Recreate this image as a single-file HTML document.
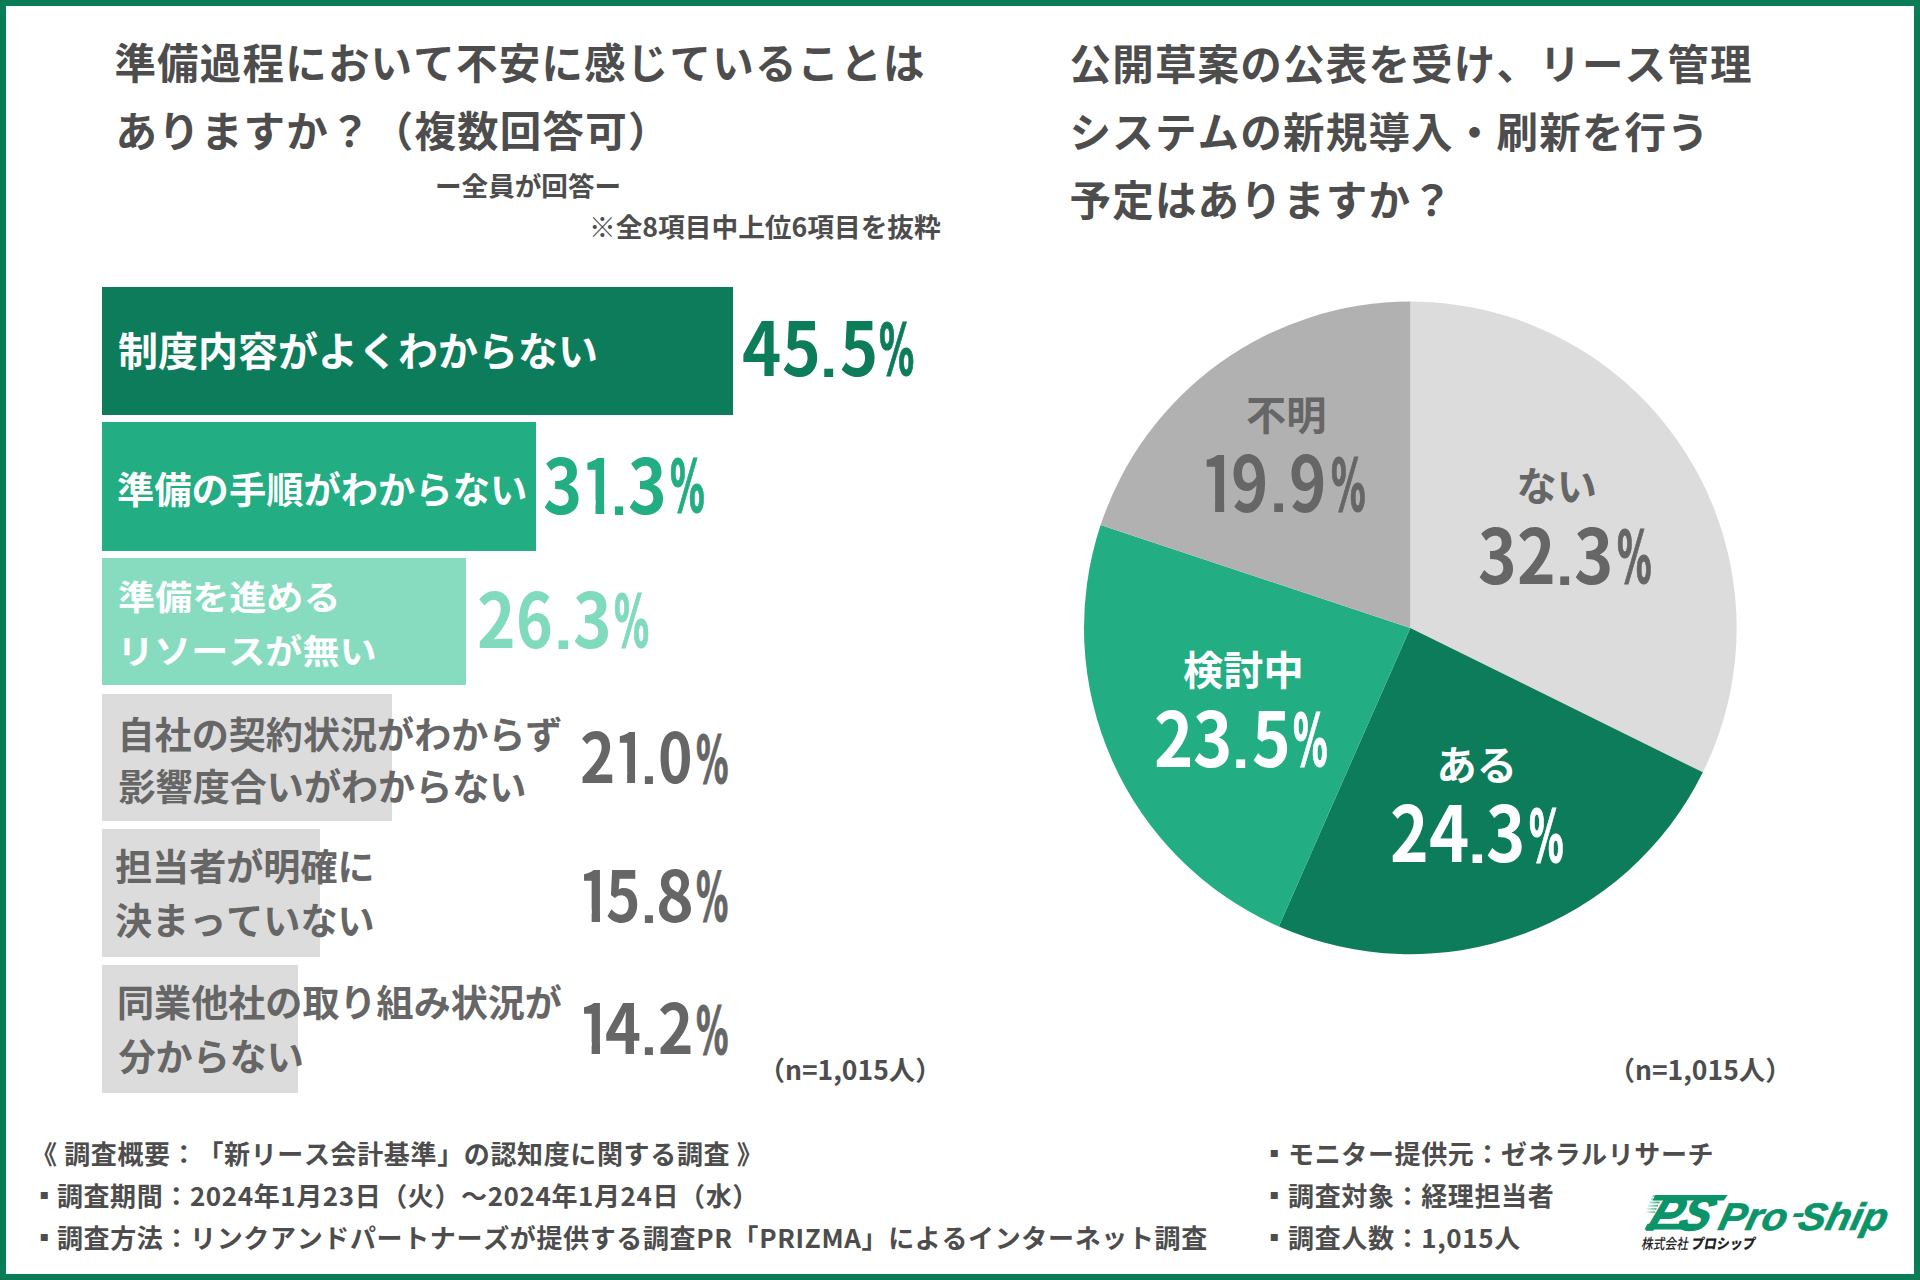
<!DOCTYPE html>
<html lang="ja">
<head>
<meta charset="utf-8">
<title>リース会計基準 調査結果</title>
<style>
:root{--g1:#0d7c5b;--g2:#23ad83;--g3:#87dcc0;--g3t:#80dabd;--gb:#dcdcdc;--gt:#666666;--pt:#666666;--pl:#dcdcdc;--pd:#b1b1b1;--tx:#4d4d4d;--fr:#0b7c58;}
html,body{margin:0;padding:0;}
body{width:1920px;height:1280px;position:relative;overflow:hidden;background:#fff;
 font-family:"Noto Sans CJK JP","Liberation Sans",sans-serif;font-weight:700;color:var(--tx);
 text-spacing-trim:space-all;font-kerning:none;}
.frame{position:absolute;left:0;top:0;width:1920px;height:1280px;box-sizing:border-box;border:6px solid var(--fr);}
.a{position:absolute;white-space:nowrap;line-height:1;}
.w{color:#fff;}
.bar{position:absolute;left:102px;height:128px;}
.pw{position:absolute;left:0;top:0;}
.pg{position:absolute;font-family:"Noto Sans CJK JP","Liberation Sans",sans-serif;font-weight:700;font-size:100px;line-height:1;transform-origin:0 0;white-space:nowrap;}
.one{clip-path:polygon(0 0,38.9px 0,38.9px 100px,24.1px 100px,24.1px 75px,0 75px);}
.pc{font-weight:900;}
.pcd{font-family:"DejaVu Sans",sans-serif;font-weight:700;-webkit-text-stroke:1.5px currentColor;}
.pdl{font-family:"Liberation Sans",sans-serif;font-weight:700;}
</style>
</head>
<body>
<div class="frame"></div>
<div class="a" style="left:114.4px;top:41.1px;font-size:41.5px;letter-spacing:1.2px;">準備過程において不安に感じていることは</div>
<div class="a" style="left:115.5px;top:108.8px;font-size:41.5px;letter-spacing:1.2px;">ありますか？（複数回答可）</div>
<div class="a" style="left:435px;top:172px;font-size:26.6px;">ー全員が回答ー</div>
<div class="a" style="left:589px;top:213px;font-size:26.7px;">※全8項目中上位6項目を抜粋</div>
<div class="bar" style="top:287px;height:128px;width:631px;background:var(--g1);"></div>
<div class="bar" style="top:422px;height:129px;width:434px;background:var(--g2);"></div>
<div class="bar" style="top:558px;height:127px;width:364px;background:var(--g3);"></div>
<div class="bar" style="top:694px;height:127px;width:290px;background:var(--gb);"></div>
<div class="bar" style="top:829px;height:128px;width:218px;background:var(--gb);"></div>
<div class="bar" style="top:965px;height:128px;width:196px;background:var(--gb);"></div>
<div class="a w" style="left:118px;top:329px;font-size:40px;">制度内容がよくわからない</div>
<div class="a w" style="left:117px;top:469.5px;font-size:37.3px;">準備の手順がわからない</div>
<div class="a w" style="left:118px;top:579.4px;font-size:37.1px;transform:scale(1,0.91);transform-origin:0 0;">準備を進める</div>
<div class="a w" style="left:117px;top:633px;font-size:37.1px;transform:scale(1,0.91);transform-origin:0 0;">リソースが無い</div>
<div class="a" style="left:117.5px;top:714.6px;font-size:37.1px;color:var(--gt);">自社の契約状況がわからず</div>
<div class="a" style="left:118.5px;top:767.4px;font-size:37.1px;color:var(--gt);">影響度合いがわからない</div>
<div class="a" style="left:115px;top:847.4px;font-size:37.1px;color:var(--gt);">担当者が明確に</div>
<div class="a" style="left:115px;top:900.5px;font-size:37.1px;color:var(--gt);">決まっていない</div>
<div class="a" style="left:117px;top:982.6px;font-size:37.1px;color:var(--gt);">同業他社の取り組み状況が</div>
<div class="a" style="left:118.5px;top:1036.75px;font-size:37.1px;color:var(--gt);">分からない</div>
<div class="a" style="left:758.5px;top:1056px;font-size:26.5px;">（n=1,015人）</div>
<div class="a" style="left:1069.5px;top:41.8px;font-size:41.5px;letter-spacing:1.2px;">公開草案の公表を受け、リース管理</div>
<div class="a" style="left:1069.5px;top:109.8px;font-size:41.5px;letter-spacing:1.2px;">システムの新規導入・刷新を行う</div>
<div class="a" style="left:1069.5px;top:177.8px;font-size:41.5px;letter-spacing:1.2px;">予定はありますか？</div>
<svg class="a" style="left:0;top:0;" width="1920" height="1280" viewBox="0 0 1920 1280"><path d="M1410.3 627.9L1410.30 301.60A326.3 326.3 0 0 1 1702.87 772.37Z" fill="var(--pl)"/><path d="M1410.3 627.9L1702.87 772.37A326.3 326.3 0 0 1 1278.83 926.54Z" fill="var(--g1)"/><path d="M1410.3 627.9L1278.83 926.54A326.3 326.3 0 0 1 1100.61 525.12Z" fill="var(--g2)"/><path d="M1410.3 627.9L1100.61 525.12A326.3 326.3 0 0 1 1410.30 301.60Z" fill="var(--pd)"/></svg>
<div class="a" style="left:1246.1px;top:393.25px;font-size:40.2px;color:var(--pt);">不明</div>
<div class="a" style="left:1516.5px;top:463.5px;font-size:40.2px;color:var(--pt);">ない</div>
<div class="a w" style="left:1183px;top:647.5px;font-size:40.2px;">検討中</div>
<div class="a w" style="left:1436.6px;top:743.2px;font-size:40.2px;">ある</div>
<div class="a" style="left:1608.5px;top:1056px;font-size:26.5px;">（n=1,015人）</div>
<div class="pw" style="color:var(--g1)"><span class="pg" style="left:741.7px;top:306.8px;transform:scale(0.6667,0.7467)">4</span><span class="pg" style="left:781.6px;top:306.8px;transform:scale(0.6580,0.7467)">5</span><span class="pg pdl" style="left:819.9px;top:329.1px;transform:scale(0.6286,0.5633)">.</span><span class="pg" style="left:840.1px;top:306.8px;transform:scale(0.6460,0.7467)">5</span><span class="pg pcd" style="left:879.4px;top:315.3px;transform:scale(0.3516,0.7179)">%</span></div>
<div class="pw" style="color:var(--g2)"><span class="pg" style="left:542.6px;top:442.8px;transform:scale(0.6660,0.7600)">3</span><span class="pg one" style="left:580.7px;top:442.8px;transform:scale(0.6014,0.7600)">1</span><span class="pg pdl" style="left:610.5px;top:465.5px;transform:scale(0.5786,0.5733)">.</span><span class="pg" style="left:627.5px;top:442.8px;transform:scale(0.6560,0.7600)">3</span><span class="pg pcd" style="left:670.1px;top:451.4px;transform:scale(0.3463,0.7308)">%</span></div>
<div class="pw" style="color:var(--g3t)"><span class="pg" style="left:476.8px;top:577.6px;transform:scale(0.6560,0.7567)">2</span><span class="pg" style="left:516.4px;top:577.6px;transform:scale(0.6240,0.7567)">6</span><span class="pg pdl" style="left:554.3px;top:600.2px;transform:scale(0.6714,0.5708)">.</span><span class="pg" style="left:572.7px;top:577.6px;transform:scale(0.6560,0.7567)">3</span><span class="pg pcd" style="left:614.2px;top:586.2px;transform:scale(0.3505,0.7276)">%</span></div>
<div class="pw" style="color:var(--gt)"><span class="pg" style="left:579.8px;top:718.9px;transform:scale(0.5980,0.6920)">2</span><span class="pg one" style="left:614.2px;top:718.9px;transform:scale(0.5445,0.6920)">1</span><span class="pg pdl" style="left:641.1px;top:739.5px;transform:scale(0.5714,0.5220)">.</span><span class="pg" style="left:657.8px;top:718.9px;transform:scale(0.5863,0.6920)">0</span><span class="pg pcd" style="left:695.6px;top:726.7px;transform:scale(0.3242,0.6654)">%</span></div>
<div class="pw" style="color:var(--gt)"><span class="pg one" style="left:578.1px;top:856.8px;transform:scale(0.5658,0.6973)">1</span><span class="pg" style="left:605.8px;top:856.8px;transform:scale(0.5840,0.6973)">5</span><span class="pg pdl" style="left:641.1px;top:877.6px;transform:scale(0.5714,0.5261)">.</span><span class="pg" style="left:656.2px;top:856.8px;transform:scale(0.6429,0.6973)">8</span><span class="pg pcd" style="left:695.6px;top:864.6px;transform:scale(0.3221,0.6705)">%</span></div>
<div class="pw" style="color:var(--gt)"><span class="pg one" style="left:578.1px;top:989.9px;transform:scale(0.5658,0.6933)">1</span><span class="pg" style="left:604.7px;top:989.9px;transform:scale(0.6111,0.6933)">4</span><span class="pg pdl" style="left:641.1px;top:1010.6px;transform:scale(0.5714,0.5230)">.</span><span class="pg" style="left:657.5px;top:989.9px;transform:scale(0.6020,0.6933)">2</span><span class="pg pcd" style="left:695.6px;top:997.8px;transform:scale(0.3242,0.6667)">%</span></div>
<div class="pw" style="color:var(--pt)"><span class="pg one" style="left:1200.3px;top:440.5px;transform:scale(0.6263,0.7653)">1</span><span class="pg" style="left:1230.9px;top:440.5px;transform:scale(0.6320,0.7653)">9</span><span class="pg pdl" style="left:1270.1px;top:463.3px;transform:scale(0.6214,0.5774)">.</span><span class="pg" style="left:1289.4px;top:440.5px;transform:scale(0.6340,0.7653)">9</span><span class="pg pcd" style="left:1331.4px;top:449.1px;transform:scale(0.3453,0.7359)">%</span></div>
<div class="pw" style="color:var(--pt)"><span class="pg" style="left:1477.9px;top:512.9px;transform:scale(0.6560,0.7587)">3</span><span class="pg" style="left:1517.2px;top:512.9px;transform:scale(0.6560,0.7587)">2</span><span class="pg pdl" style="left:1556.4px;top:535.6px;transform:scale(0.6286,0.5723)">.</span><span class="pg" style="left:1574.0px;top:512.9px;transform:scale(0.6680,0.7587)">3</span><span class="pg pcd" style="left:1616.6px;top:521.5px;transform:scale(0.3453,0.7295)">%</span></div>
<div class="pw" style="color:#fff"><span class="pg" style="left:1154.3px;top:695.9px;transform:scale(0.6680,0.7587)">2</span><span class="pg" style="left:1192.5px;top:695.9px;transform:scale(0.6680,0.7587)">3</span><span class="pg pdl" style="left:1232.3px;top:718.6px;transform:scale(0.6286,0.5723)">.</span><span class="pg" style="left:1252.3px;top:695.9px;transform:scale(0.6560,0.7587)">5</span><span class="pg pcd" style="left:1292.5px;top:704.5px;transform:scale(0.3453,0.7295)">%</span></div>
<div class="pw" style="color:#fff"><span class="pg" style="left:1390.3px;top:791.4px;transform:scale(0.6560,0.7653)">2</span><span class="pg" style="left:1429.0px;top:791.4px;transform:scale(0.6833,0.7653)">4</span><span class="pg pdl" style="left:1467.9px;top:814.2px;transform:scale(0.6714,0.5774)">.</span><span class="pg" style="left:1486.4px;top:791.4px;transform:scale(0.6680,0.7653)">3</span><span class="pg pcd" style="left:1529.0px;top:800.0px;transform:scale(0.3453,0.7359)">%</span></div>

<div class="a" style="left:31px;top:1140px;font-size:26px;letter-spacing:0.64px;">《 調査概要：「新リース会計基準」の認知度に関する調査 》</div>
<div class="a" style="left:31.5px;top:1181.4px;font-size:25.5px;">▪</div><div class="a" style="left:56.9px;top:1182px;font-size:26px;letter-spacing:0.6px;">調査期間：2024年1月23日（火）～2024年1月24日（水）</div>
<div class="a" style="left:31.5px;top:1223.4px;font-size:25.5px;">▪</div><div class="a" style="left:56.9px;top:1224px;font-size:26px;letter-spacing:0.64px;">調査方法：リンクアンドパートナーズが提供する調査PR「PRIZMA」によるインターネット調査</div>
<div class="a" style="left:1261.5px;top:1139.4px;font-size:25.5px;">▪</div><div class="a" style="left:1288px;top:1140px;font-size:26px;letter-spacing:0.64px;">モニター提供元：ゼネラルリサーチ</div>
<div class="a" style="left:1261.5px;top:1181.4px;font-size:25.5px;">▪</div><div class="a" style="left:1288px;top:1182px;font-size:26px;letter-spacing:0.64px;">調査対象：経理担当者</div>
<div class="a" style="left:1261.5px;top:1223.4px;font-size:25.5px;">▪</div><div class="a" style="left:1288px;top:1224px;font-size:26px;letter-spacing:0.64px;">調査人数：1,015人</div>
<svg class="a" style="left:1630px;top:1185px;" width="270" height="75" viewBox="1630 1185 270 75">
<defs>
<linearGradient id="sp" x1="1645" y1="0" x2="1664" y2="0" gradientUnits="userSpaceOnUse">
<stop offset="0" stop-color="#0b9369" stop-opacity="0"/><stop offset="0.8" stop-color="#0b9369" stop-opacity="0.9"/></linearGradient>
</defs>
<g fill="url(#sp)">
<rect x="1652.5" y="1195.2" width="10" height="1.8"/>
<rect x="1651" y="1198.4" width="10" height="1.8"/>
<rect x="1649.5" y="1201.6" width="10" height="1.8"/>
<rect x="1648" y="1204.8" width="10" height="1.8"/>
<rect x="1646.5" y="1208" width="10" height="1.8"/>
<rect x="1645" y="1211.2" width="10" height="1.8"/>
</g>
<path d="M1655.5 1195H1727.6L1723.8 1200.6H1652.6Z M1647.6 1223.8H1700.5L1697 1229.5H1644.5Z" fill="#0b9369"/>
<text transform="translate(1645.6 1229.5) skewX(-22)" font-family="'Liberation Sans', sans-serif" font-weight="700" font-style="italic" font-size="48" fill="#0b9369" stroke="#0b9369" stroke-width="1.4" stroke-linejoin="round" textLength="61" lengthAdjust="spacingAndGlyphs">PS</text>
<g fill="#0b9369" stroke="#0b9369" stroke-width="0.7" font-family="'Liberation Sans', sans-serif" font-weight="700" font-style="italic" font-size="38.4">
<text transform="translate(1716.8 1229.7) skewX(-13)" textLength="68" lengthAdjust="spacingAndGlyphs">Pro</text>
<text transform="translate(1796.5 1229.7) skewX(-13)" textLength="88.5" lengthAdjust="spacingAndGlyphs">Ship</text>
<text transform="translate(1790.3 1223.2) skewX(-13) scale(1 0.8)" stroke-width="0">-</text>
</g>
<text transform="translate(1641 1249.4) skewX(-10)" font-family="'Noto Sans CJK JP', sans-serif" font-size="14.5" fill="#222"><tspan font-weight="500" textLength="47" lengthAdjust="spacingAndGlyphs">株式会社</tspan><tspan x="49.5" font-weight="900" textLength="64" lengthAdjust="spacingAndGlyphs">プロシップ</tspan></text>
</svg>

</body>
</html>
